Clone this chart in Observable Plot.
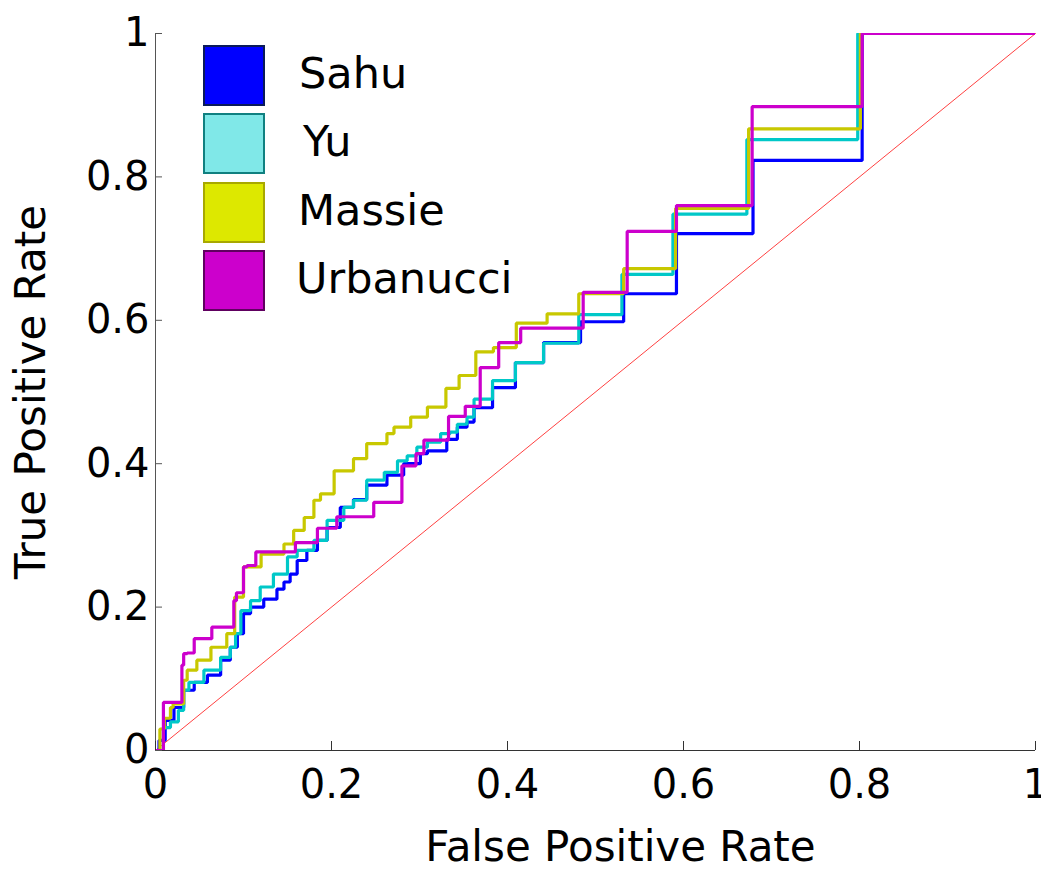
<!DOCTYPE html>
<html>
<head>
<meta charset="utf-8">
<script src="https://cdn.jsdelivr.net/npm/d3@7"></script>
<script src="https://cdn.jsdelivr.net/npm/@observablehq/plot@0.6"></script>
<style>
  html, body { margin: 0; padding: 0; background: #fff; }
  #wrap { position: relative; width: 1041px; height: 869px; }
  .leg { position: absolute; font-family: "DejaVu Sans", sans-serif; font-size: 43px; color: #000; }
  .patch { position: absolute; box-sizing: border-box; border: 2.5px solid; }
  .lab { position: absolute; line-height: 1; white-space: nowrap; }
</style>
</head>
<body>
<div id="wrap"></div>
<script>
// ---- data ----
const seriesNames = ["Sahu", "Yu", "Massie", "Urbanucci"];
const lineColors = ["#0000ff", "#00c8c8", "#c8c800", "#cc00cc"];
const patchFill = ["#0000ff", "#80e8e8", "#dde800", "#cc00cc"];
const patchEdge = ["#0a1a5a", "#108080", "#a8a800", "#600060"];

// each pair: [FPR where TPR steps up, new TPR level]
const sahu = [[0,0],[0.004,0.014],[0.011,0.042],[0.021,0.06],[0.032,0.084],[0.044,0.095],[0.059,0.105],[0.074,0.126],[0.085,0.144],[0.093,0.163],[0.1,0.191],[0.108,0.2],[0.123,0.211],[0.138,0.225],[0.146,0.235],[0.153,0.246],[0.161,0.265],[0.172,0.279],[0.184,0.293],[0.195,0.311],[0.21,0.339],[0.225,0.35],[0.24,0.37],[0.263,0.384],[0.282,0.4],[0.301,0.414],[0.309,0.418],[0.331,0.434],[0.343,0.451],[0.354,0.458],[0.362,0.478],[0.383,0.506],[0.409,0.541],[0.441,0.569],[0.483,0.598],[0.532,0.637],[0.592,0.721],[0.679,0.823],[0.803,1],[1,1]];
const yu = [[0,0],[0.009,0.032],[0.017,0.04],[0.026,0.056],[0.032,0.084],[0.038,0.095],[0.055,0.112],[0.074,0.13],[0.085,0.144],[0.091,0.163],[0.097,0.195],[0.108,0.209],[0.119,0.228],[0.134,0.246],[0.15,0.27],[0.161,0.279],[0.18,0.293],[0.195,0.321],[0.214,0.339],[0.225,0.349],[0.24,0.377],[0.26,0.388],[0.275,0.404],[0.286,0.411],[0.297,0.423],[0.309,0.43],[0.324,0.442],[0.335,0.444],[0.343,0.455],[0.354,0.465],[0.362,0.49],[0.383,0.516],[0.409,0.541],[0.441,0.568],[0.481,0.608],[0.53,0.664],[0.588,0.748],[0.672,0.852],[0.798,1],[1,1]];
const massie = [[0,0],[0.005,0.03],[0.01,0.045],[0.017,0.06],[0.02,0.065],[0.032,0.098],[0.036,0.112],[0.047,0.126],[0.063,0.144],[0.081,0.163],[0.09,0.214],[0.1,0.256],[0.12,0.274],[0.146,0.288],[0.157,0.307],[0.169,0.325],[0.18,0.349],[0.1875,0.358],[0.203,0.39],[0.225,0.407],[0.24,0.428],[0.263,0.442],[0.271,0.451],[0.29,0.465],[0.309,0.479],[0.33,0.505],[0.345,0.523],[0.364,0.556],[0.384,0.562],[0.41,0.596],[0.445,0.609],[0.481,0.637],[0.532,0.672],[0.591,0.756],[0.674,0.867],[0.801,1],[1,1]];
const urbanucci = [[0,0],[0.009,0.067],[0.03,0.119],[0.032,0.135],[0.036,0.136],[0.044,0.156],[0.064,0.172],[0.089,0.209],[0.092,0.22],[0.1,0.256],[0.104,0.258],[0.114,0.277],[0.159,0.29],[0.184,0.31],[0.206,0.326],[0.248,0.346],[0.28,0.397],[0.296,0.414],[0.305,0.433],[0.333,0.466],[0.352,0.48],[0.369,0.534],[0.39,0.569],[0.415,0.589],[0.486,0.639],[0.536,0.724],[0.592,0.76],[0.678,0.898],[0.803,1],[1,1]];
const chanceLine = [[0,0],[1,1]];

const xTicks = [0, 0.2, 0.4, 0.6, 0.8, 1];
const yTicks = [0, 0.2, 0.4, 0.6, 0.8, 1];
const xTickLabels = ["0", "0.2", "0.4", "0.6", "0.8", "1"];
const yTickLabels = ["0", "0.2", "0.4", "0.6", "0.8", "1"];
const xLabel = "False Positive Rate";
const yLabel = "True Positive Rate";

// ---- build table ----
const seriesData = [sahu, yu, massie, urbanucci];
const rows = [];
seriesData.forEach((arr, k) => arr.forEach(([f, t]) => rows.push({series: seriesNames[k], fpr: f, tpr: t})));

const W = 1041, H = 869, mL = 155, mR = 6, mT = 33, mB = 119;
const plotW = W - mL - mR, plotH = H - mT - mB;

const chart = Plot.plot({
  width: W, height: H,
  marginLeft: mL, marginRight: mR, marginTop: mT, marginBottom: mB,
  style: {background: "white", overflow: "visible"},
  x: {domain: [0, 1], axis: null},
  y: {domain: [0, 1], axis: null},
  color: {domain: seriesNames, range: lineColors},
  marks: [
    Plot.line(chanceLine, {x: d => d[0], y: d => d[1], stroke: "#ff0000", strokeWidth: 1, strokeOpacity: 0.75}),
    Plot.line(rows, {x: "fpr", y: "tpr", z: "series", stroke: "series", strokeWidth: 3.2,
      curve: "step-after", strokeLinejoin: "miter", strokeLinecap: "butt", clip: true}),
    Plot.ruleX([0], {stroke: "#555", strokeWidth: 1}),
    Plot.ruleY([0], {stroke: "#333", strokeWidth: 1}),
    Plot.tickX(xTicks, {x: d => d, insetTop: plotH - 9, stroke: "#333", strokeWidth: 1}),
    Plot.tickY(yTicks, {y: d => d, insetRight: plotW - 7, stroke: "#555", strokeWidth: 1}),
    Plot.axisX({ticks: xTicks, tickFormat: d => xTickLabels[xTicks.indexOf(d)], tickSize: 0, tickPadding: 19,
      fontSize: 40, fontFamily: "DejaVu Sans", label: null, color: "#000"}),
    Plot.axisY({ticks: yTicks, tickFormat: d => yTickLabels[yTicks.indexOf(d)], tickSize: 0, tickPadding: 6,
      fontSize: 40, fontFamily: "DejaVu Sans", label: null, color: "#000"}),
    Plot.text([xLabel], {text: d => d, frameAnchor: "bottom", dx: 25, dy: 97, fontSize: 42,
      fontFamily: "DejaVu Sans", fill: "#000", textAnchor: "middle", lineAnchor: "middle"}),
    Plot.text([yLabel], {text: d => d, frameAnchor: "left", dx: -124, rotate: -90, fontSize: 42,
      fontFamily: "DejaVu Sans", fill: "#000", textAnchor: "middle", lineAnchor: "middle"})
  ]
});

const wrap = document.getElementById("wrap");
wrap.appendChild(chart);

// ---- legend (HTML overlay) ----
const leg = document.createElement("div");
leg.className = "leg";
leg.style.left = "0px"; leg.style.top = "0px";
const patchTops = [45, 113, 182, 250];
const textLefts = [299, 303, 298, 296];
seriesNames.forEach((name, i) => {
  const p = document.createElement("div");
  p.className = "patch";
  p.style.left = "203px"; p.style.top = patchTops[i] + "px";
  p.style.width = "62px"; p.style.height = "61px";
  p.style.background = patchFill[i];
  p.style.borderColor = patchEdge[i];
  leg.appendChild(p);
  const t = document.createElement("div");
  t.className = "lab";
  t.textContent = name;
  t.style.left = textLefts[i] + "px";
  t.style.top = (patchTops[i] + 7) + "px";
  leg.appendChild(t);
});
wrap.appendChild(leg);
</script>
</body>
</html>
